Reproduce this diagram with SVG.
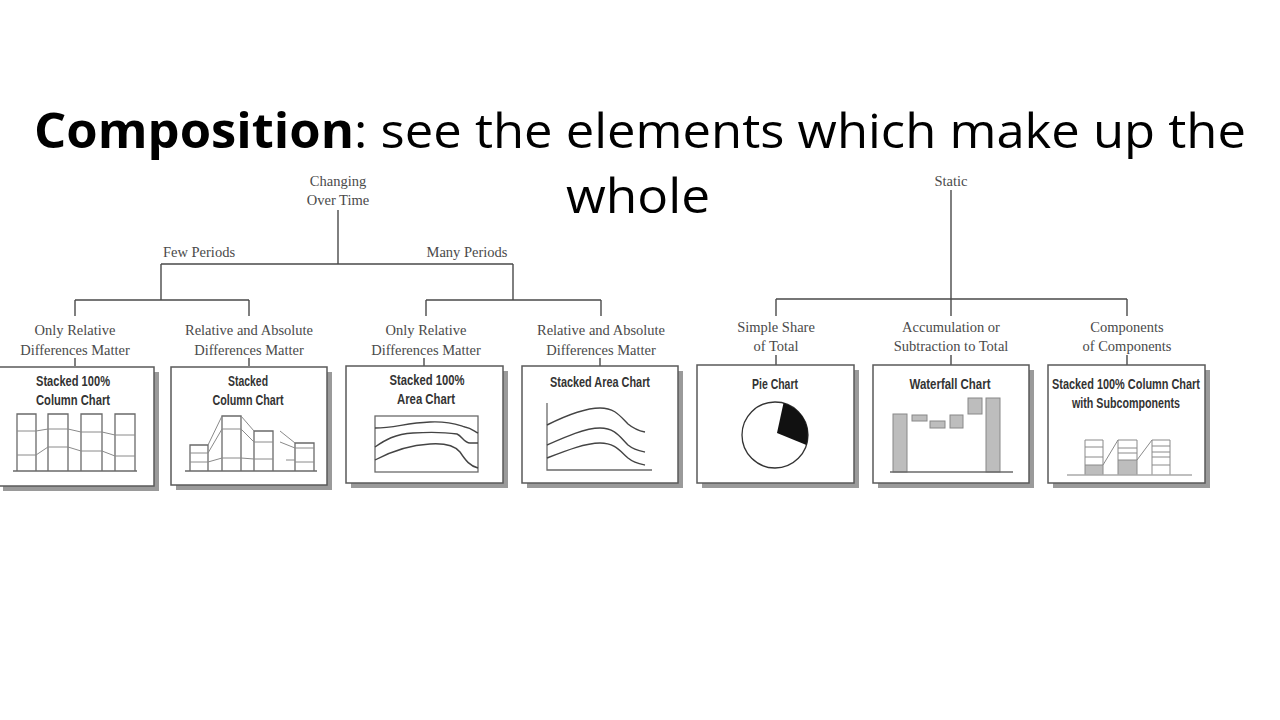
<svg xmlns="http://www.w3.org/2000/svg" width="1280" height="720" viewBox="0 0 1280 720">
<style>
.title{font-family:"Open Sans","Liberation Sans",sans-serif;font-size:48px;fill:#000}
.lbl{font-family:"Liberation Serif","DejaVu Serif",serif;font-size:14.5px;fill:#4a4a4a;text-anchor:middle}
.bt{font-family:"Liberation Sans","DejaVu Sans",sans-serif;font-weight:bold;font-size:14px;fill:#333;text-anchor:middle}
.conn{stroke:#4a4a4a;stroke-width:1.4;fill:none}
.box{fill:#fff;stroke:#5a5a5a;stroke-width:1.5}
.shadow{fill:#9a9a9a}
.ch{stroke:#6a6a6a;stroke-width:1.3;fill:none}
.thin{stroke:#8a8a8a;stroke-width:1;fill:none}
.crv{stroke:#444;stroke-width:1.4;fill:none}
.bar{fill:#bdbdbd;stroke:#888;stroke-width:1}
</style>
<rect width="1280" height="720" fill="#fff"/>
<g id="title">
<text class="title" x="640" y="148" text-anchor="middle" textLength="1212" lengthAdjust="spacingAndGlyphs"><tspan font-weight="bold">Composition</tspan>: see the elements which make up the</text>
<text class="title" x="638" y="213" text-anchor="middle" textLength="144" lengthAdjust="spacingAndGlyphs">whole</text>
</g>
<g id="connectors">
<path class="conn" d="M338,210 V264 M161,264 H513 M161,264 V300 M75,300 H249 M75,300 V316 M249,300 V316 M513,264 V300 M426,300 H601 M426,300 V316 M601,300 V316"/>
<path class="conn" d="M75,358 V366 M249,358 V366 M424,358 V366 M600,358 V366 M776,355 V365 M951,355 V365 M1127,355 V365"/>
<path class="conn" stroke="#222" d="M951,190 V316 M776,299 H1127 M776,299 V316 M1127,299 V316"/>
</g>
<g id="changing-over-time"><text class="lbl" x="338" y="186">Changing</text><text class="lbl" x="338" y="205">Over Time</text></g>
<g id="few-periods"><text class="lbl" x="199" y="257">Few Periods</text></g>
<g id="many-periods"><text class="lbl" x="467" y="257">Many Periods</text></g>
<g id="static"><text class="lbl" x="951" y="186">Static</text></g>
<g id="lbl1"><text class="lbl" x="75" y="335">Only Relative</text><text class="lbl" x="75" y="355">Differences Matter</text></g>
<g id="lbl2"><text class="lbl" x="249" y="335">Relative and Absolute</text><text class="lbl" x="249" y="355">Differences Matter</text></g>
<g id="lbl3"><text class="lbl" x="426" y="335">Only Relative</text><text class="lbl" x="426" y="355">Differences Matter</text></g>
<g id="lbl4"><text class="lbl" x="601" y="335">Relative and Absolute</text><text class="lbl" x="601" y="355">Differences Matter</text></g>
<g id="lbl5"><text class="lbl" x="776" y="332">Simple Share</text><text class="lbl" x="776" y="351">of Total</text></g>
<g id="lbl6"><text class="lbl" x="951" y="332">Accumulation or</text><text class="lbl" x="951" y="351">Subtraction to Total</text></g>
<g id="lbl7"><text class="lbl" x="1127" y="332">Components</text><text class="lbl" x="1127" y="351">of Components</text></g>

<g id="box-stacked100-column">
<rect class="shadow" x="3" y="372" width="156" height="119"/>
<rect class="box" x="-2" y="367" width="156" height="119"/>
<text class="bt" x="73" y="386" textLength="74" lengthAdjust="spacingAndGlyphs">Stacked 100%</text><text class="bt" x="73" y="405" textLength="74" lengthAdjust="spacingAndGlyphs">Column Chart</text>
<path class="ch" d="M17,414 H36 V471 H17 Z M48,414 H68 V471 H48 Z M81,414 H102 V471 H81 Z M115,414 H135 V471 H115 Z M13,471 H137"/>
<path class="thin" d="M17,431 H36 L48,429 H68 L81,432 H102 L115,435 H135 M17,455 H36 L48,447 H68 L81,451 H102 L115,456 H135"/>
</g>
<g id="box-stacked-column">
<rect class="shadow" x="176" y="372" width="156" height="118"/>
<rect class="box" x="171" y="367" width="156" height="118"/>
<text class="bt" x="248" y="386" textLength="40" lengthAdjust="spacingAndGlyphs">Stacked</text><text class="bt" x="248" y="405" textLength="71" lengthAdjust="spacingAndGlyphs">Column Chart</text>
<path class="ch" d="M190,445 H208 V471 H190 Z M222,416 H241 V471 H222 Z M254,431 H273 V471 H254 Z M295,443 H314 V471 H295 Z M185,471 H317"/>
<path class="thin" d="M190,453 H208 L222,429 H241 L254,442 H273 M190,462 H208 L222,458 H241 L254,459 H273 M208,445 L222,416 M241,416 L254,431 M280,431 L295,443 M280,442 L295,448 M286,460 H295 M295,448 H314 M295,462 H314"/>
</g>
<g id="box-stacked100-area">
<rect class="shadow" x="351" y="371" width="157" height="117"/>
<rect class="box" x="346" y="366" width="157" height="117"/>
<text class="bt" x="427" y="385" textLength="75" lengthAdjust="spacingAndGlyphs">Stacked 100%</text><text class="bt" x="426" y="404" textLength="58" lengthAdjust="spacingAndGlyphs">Area Chart</text>
<rect class="ch" x="375" y="416" width="103" height="56"/>
<path class="crv" d="M375,428 C395,428 405,423 430,422 C450,421 458,425 465,427 C471,428 474,431 478,433"/>
<path class="crv" d="M375,447 C385,440 395,434 413,433 C430,432 450,433 457,434 C462,436 464,443 470,443 L478,443"/>
<path class="crv" d="M375,460 C390,452 410,445 430,444 C445,443 455,446 460,452 C466,461 470,466 478,468"/>
</g>
<g id="box-stacked-area">
<rect class="shadow" x="527" y="371" width="156" height="117"/>
<rect class="box" x="522" y="366" width="156" height="117"/>
<text class="bt" x="600" y="387" textLength="100" lengthAdjust="spacingAndGlyphs">Stacked Area Chart</text>
<path class="ch" d="M547,403 V470 H652"/>
<path class="crv" d="M547,425 C565,416 585,408 600,408 C615,408 620,416 628,424 C634,429 640,431 645,432"/>
<path class="crv" d="M547,445 C565,437 585,428 600,428 C615,428 620,437 628,445 C634,450 640,451 645,452"/>
<path class="crv" d="M547,458 C565,451 585,443 600,443 C615,443 620,451 628,458 C634,463 640,464 645,465"/>
</g>
<g id="box-pie">
<rect class="shadow" x="702" y="370" width="157" height="118"/>
<rect class="box" x="697" y="365" width="157" height="118"/>
<text class="bt" x="775" y="389" textLength="46" lengthAdjust="spacingAndGlyphs">Pie Chart</text>
<circle cx="775" cy="435" r="33" fill="#fff" stroke="#333" stroke-width="1.3"/>
<path d="M777,433 L783.5,403 A33,33 0 0 1 806.4,445 Z" fill="#111"/>
</g>
<g id="box-waterfall">
<rect class="shadow" x="878" y="370" width="156" height="118"/>
<rect class="box" x="873" y="365" width="156" height="118"/>
<text class="bt" x="950" y="389" textLength="81" lengthAdjust="spacingAndGlyphs">Waterfall Chart</text>
<rect class="bar" x="893" y="414" width="14" height="58"/>
<rect class="bar" x="912" y="415" width="15" height="6"/>
<rect class="bar" x="930" y="421" width="15" height="7"/>
<rect class="bar" x="950" y="415" width="13" height="13"/>
<rect class="bar" x="968" y="398" width="14" height="16"/>
<rect class="bar" x="986" y="398" width="14" height="74"/>
<path class="ch" d="M890,472 H1013"/>
</g>
<g id="box-subcomponents">
<rect class="shadow" x="1053" y="370" width="157" height="118"/>
<rect class="box" x="1048" y="365" width="157" height="118"/>
<text class="bt" x="1126" y="389" textLength="148" lengthAdjust="spacingAndGlyphs">Stacked 100% Column Chart</text><text class="bt" x="1126" y="408" textLength="108" lengthAdjust="spacingAndGlyphs">with Subcomponents</text>
<rect x="1085" y="465" width="18" height="10" fill="#bdbdbd"/>
<rect x="1118" y="460" width="19" height="15" fill="#bdbdbd"/>
<path class="thin" d="M1085,475 V440 H1103 V475 M1085,447 H1103 M1085,457 H1103 M1085,465 H1103 M1118,475 V440 H1137 V475 M1118,448 H1137 M1118,453 H1137 M1118,460 H1137 M1152,475 V440 H1170 V475 M1152,446 H1170 M1152,452 H1170 M1152,457 H1170 M1152,465 H1170 M1103,465 L1118,440 M1137,460 L1152,440"/>
<path d="M1067,475 H1192" stroke="#aaa" stroke-width="1.3"/>
</g>
</svg>
